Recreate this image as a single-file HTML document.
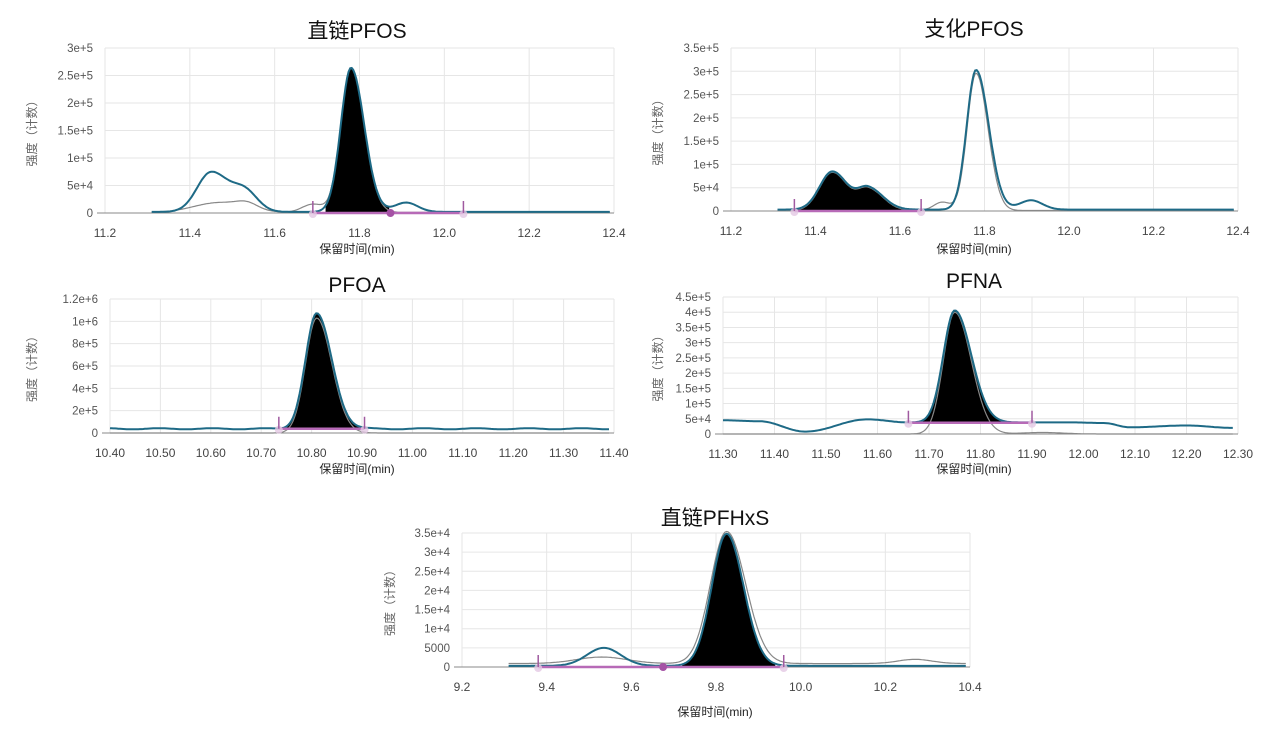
<!DOCTYPE html>
<html><head><meta charset="utf-8">
<style>
html,body{margin:0;padding:0;background:#fff;}
svg{display:block;font-family:"Liberation Sans","Noto Sans CJK SC",sans-serif;}
</style></head>
<body>
<svg id="s" width="1280" height="741" xmlns="http://www.w3.org/2000/svg"></svg>
<script>
const S=document.getElementById('s');let out='';
function g(x,m,a,s){return a*Math.exp(-0.5*((x-m)/s)**2);}
function ga(x,m,a,sl,sr){const s=x<m?sl:sr;return a*Math.exp(-0.5*((x-m)/s)**2);}
function interp(pts){return x=>{if(x<=pts[0][0])return pts[0][1];for(let i=0;i<pts.length-1;i++){const[a,va]=pts[i],[b,vb]=pts[i+1];if(x<=b){const t=(x-a)/(b-a),s=(1-Math.cos(Math.PI*t))/2;return va+(vb-va)*s;}}return pts[pts.length-1][1];};}
function chart(c){
 const {x0,x1,px0,px1,ymax,py0,py1,yt,xt,xfmt,title,tx,ty,xl,yl,ylx}=c;
 const X=v=>px0+(v-x0)/(x1-x0)*(px1-px0), Y=v=>py0-(v/ymax)*(py0-py1);
 for(const t of yt){out+=`<line x1="${px0}" x2="${px1}" y1="${Y(t)}" y2="${Y(t)}" stroke="#e6e6e6"/>`;
  out+=`<text x="${px0-12}" y="${Y(t)+4}" font-size="11.5" fill="#555" text-anchor="end">${c.yfmt(t)}</text>`;}
 for(const t of xt){out+=`<line x1="${X(t)}" x2="${X(t)}" y1="${py1}" y2="${py0}" stroke="#e6e6e6"/>`;
  out+=`<text x="${X(t)}" y="${py0+24}" font-size="12" fill="#444" text-anchor="middle">${xfmt(t)}</text>`;}
 out+=`<line x1="${px0-8}" x2="${px1}" y1="${py0}" y2="${py0}" stroke="#888"/>`;
 out+=`<text x="${tx}" y="${ty}" font-size="21" fill="#111" text-anchor="middle">${title}</text>`;
 out+=`<text x="${tx}" y="${xl}" font-size="12" fill="#222" text-anchor="middle">保留时间(min)</text>`;
 out+=`<text transform="translate(${ylx},${(py0+py1)/2}) rotate(-90)" font-size="12" fill="#666" text-anchor="middle">强度（计数）</text>`;
 const path=(f,a,b)=>{let d='';const n=300;for(let i=0;i<=n;i++){const x=a+(b-a)*i/n;d+=(i?'L':'M')+X(x).toFixed(1)+','+Y(f(x)).toFixed(1);}return d;};
 const [fa,fb,fbase]=c.fill;
 out+=`<path d="${path(c.teal,fa,fb)}L${X(fb)},${Y(fbase)}L${X(fa)},${Y(fbase)}Z" fill="#000"/>`;
 if(c.gray) out+=`<path d="${path(c.gray,c.r[0],c.r[1])}" fill="none" stroke="#888" stroke-width="1.2"/>`;
 out+=`<path d="${path(c.teal,c.r[0],c.r[1])}" fill="none" stroke="#1e6a86" stroke-width="2"/>`;
 out+=`<line x1="${X(c.m[0])}" x2="${X(c.m[c.m.length-1])}" y1="${Y(fbase)}" y2="${Y(fbase)}" stroke="#b76ab7" stroke-width="2.5"/>`;
 for(const m of c.m){out+=`<circle cx="${X(m)}" cy="${Y(fbase)+1}" r="4" fill="#e3c8e3" opacity="0.8"/><line x1="${X(m)}" x2="${X(m)}" y1="${Y(fbase)-12}" y2="${Y(fbase)}" stroke="#a05aa0" stroke-width="1.5"/>`;}
 if(c.dot) for(const d of c.dot) out+=`<circle cx="${X(d)}" cy="${Y(fbase)}" r="4" fill="#a552a5"/>`;
}
const f1=d=>d.toFixed(1), f2=d=>d.toFixed(2);
const exp=(v)=>v===0?'0':v>=1e6?(v/1e6)+'e+6':v>=1e5?(v/1e5)+'e+5':(v/1e4)+'e+4';
const exp4=v=>v===0?'0':v===5000?'5000':(v/1e4)+'e+4';
const rng=(a,b,s)=>{let r=[];for(let v=a;v<=b+1e-9;v+=s)r.push(+v.toFixed(4));return r;};
chart({x0:11.2,x1:12.4,px0:105,px1:614,ymax:3e5,py0:213,py1:48,yt:rng(0,3e5,5e4),xt:rng(11.2,12.4,0.2),xfmt:f1,yfmt:exp,
 title:'直链PFOS',tx:357,ty:38,xl:253,ylx:36,r:[11.31,12.39],
 teal:x=>2000+ga(x,11.45,72000,0.033,0.04)+g(x,11.53,36000,0.03)+ga(x,11.78,262000,0.024,0.031)+g(x,11.91,17000,0.027),
 gray:x=>1000+g(x,11.47,18000,0.06)+g(x,11.535,10000,0.025)+g(x,11.69,15000,0.025)+ga(x,11.78,262000,0.024,0.031),
 fill:[11.72,11.87,0],m:[11.69,12.045],dot:[11.873]});
chart({x0:11.2,x1:12.4,px0:731,px1:1238,ymax:3.5e5,py0:211,py1:48,yt:rng(0,3.5e5,5e4),xt:rng(11.2,12.4,0.2),xfmt:f1,yfmt:exp,
 title:'支化PFOS',tx:974,ty:36,xl:253,ylx:662,r:[11.31,12.39],
 teal:x=>3000+ga(x,11.44,82000,0.03,0.035)+ga(x,11.525,46000,0.025,0.035)+ga(x,11.78,300000,0.022,0.03)+g(x,11.91,20000,0.027),
 gray:x=>1000+ga(x,11.44,82000,0.03,0.035)+ga(x,11.525,46000,0.025,0.035)+g(x,11.70,18000,0.02)+ga(x,11.78,295000,0.021,0.028),
 fill:[11.35,11.64,0],m:[11.35,11.65]});
chart({x0:10.4,x1:11.4,px0:110,px1:614,ymax:1.2e6,py0:433,py1:299,yt:rng(0,1.2e6,2e5),xt:rng(10.4,11.4,0.1),xfmt:f2,yfmt:exp,
 title:'PFOA',tx:357,ty:292,xl:473,ylx:36,r:[10.4,11.39],
 teal:x=>38000+5000*Math.sin(x*60)+ga(x,10.81,1030000,0.022,0.03),
 gray:x=>ga(x,10.81,1030000,0.022,0.03),
 fill:[10.745,10.9,38000],m:[10.735,10.905]});
const pfnaBase=interp([[11.3,45000],[11.37,42000],[11.46,8000],[11.58,48000],[11.66,38000],[11.9,38000],[11.98,38000],[12.04,36000],[12.09,22000],[12.2,28000],[12.29,20000]]);
chart({x0:11.3,x1:12.3,px0:723,px1:1238,ymax:4.5e5,py0:434,py1:297,yt:rng(0,4.5e5,5e4),xt:rng(11.3,12.3,0.1),xfmt:f2,yfmt:exp,
 title:'PFNA',tx:974,ty:288,xl:473,ylx:662,r:[11.3,12.29],
 teal:x=>pfnaBase(x)+ga(x,11.75,368000,0.022,0.032),
 gray:x=>ga(x,11.75,400000,0.022,0.032)+g(x,11.92,5000,0.04),
 fill:[11.67,11.9,37000],m:[11.66,11.90]});
chart({x0:9.2,x1:10.4,px0:462,px1:970,ymax:3.5e4,py0:667,py1:533,yt:rng(0,3.5e4,5000),xt:rng(9.2,10.4,0.2),xfmt:f1,yfmt:exp4,
 title:'直链PFHxS',tx:715,ty:525,xl:716,ylx:394,r:[9.31,10.39],
 teal:x=>300+g(x,9.535,4700,0.04)+ga(x,9.825,34500,0.035,0.04),
 gray:x=>900+g(x,9.53,1700,0.06)+ga(x,9.825,34500,0.038,0.045)+g(x,10.27,1100,0.04),
 fill:[9.72,9.94,0],m:[9.38,9.96],dot:[9.675]});
S.innerHTML=out;
</script>
</body></html>
